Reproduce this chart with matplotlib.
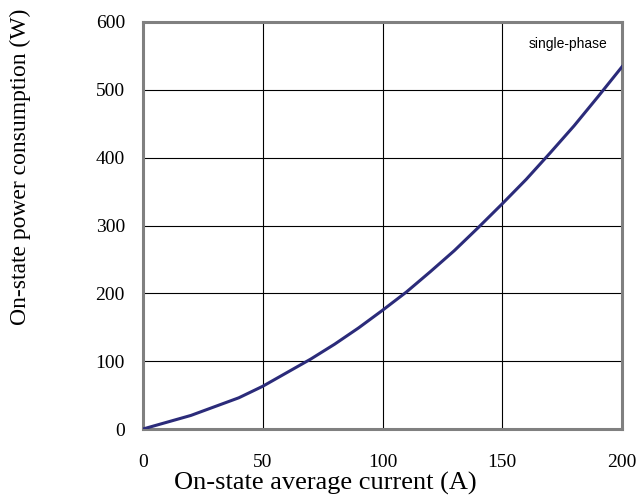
import matplotlib
matplotlib.use("Agg")
import matplotlib.pyplot as plt

current = [0, 10, 20, 30, 40, 50, 60, 70, 80, 90, 100, 110, 120, 130, 140, 150, 160, 170, 180, 190, 200]
power = [0, 10, 20, 33, 46, 63, 83, 103, 125, 149, 175, 202, 232, 263, 297, 332, 368, 407, 447, 490, 534]

xticks = [0, 50, 100, 150, 200]
yticks = [0, 100, 200, 300, 400, 500, 600]

W, H = 639, 497
fig = plt.figure(figsize=(W/100, H/100), dpi=100)
ax = fig.add_axes([143/W, 1-429/H, 479/W, 407/H])
ax.plot(current, power, color="#2b2b7a", lw=2.2, zorder=3, solid_joinstyle="round")
ax.set_xlim(0, 200)
ax.set_ylim(0, 600)
ax.set_xticks(xticks)
ax.set_yticks(yticks)
ax.grid(True, color="black", lw=0.8)
for s in ax.spines.values():
    s.set_color("#808080")
    s.set_linewidth(2.2)
ax.tick_params(length=0, labelsize=14)
for lab in ax.get_xticklabels() + ax.get_yticklabels():
    lab.set_fontfamily("Liberation Serif")
ax.tick_params(axis="x", pad=18)
ax.tick_params(axis="y", pad=13)
fig.text(325/W, 1-490/H, "On-state average current (A)", fontfamily="Liberation Serif",
         fontsize=19, ha="center", va="baseline")
fig.text(20/W, 1-167/H, "On-state power consumption (W)", fontfamily="Liberation Serif",
         fontsize=17, ha="center", va="center", rotation=90)
ax.text(0.97, 0.945, "single-phase", transform=ax.transAxes, ha="right", va="center",
        fontfamily="Liberation Sans", fontsize=10)
fig.savefig("out.png", dpi=100)
